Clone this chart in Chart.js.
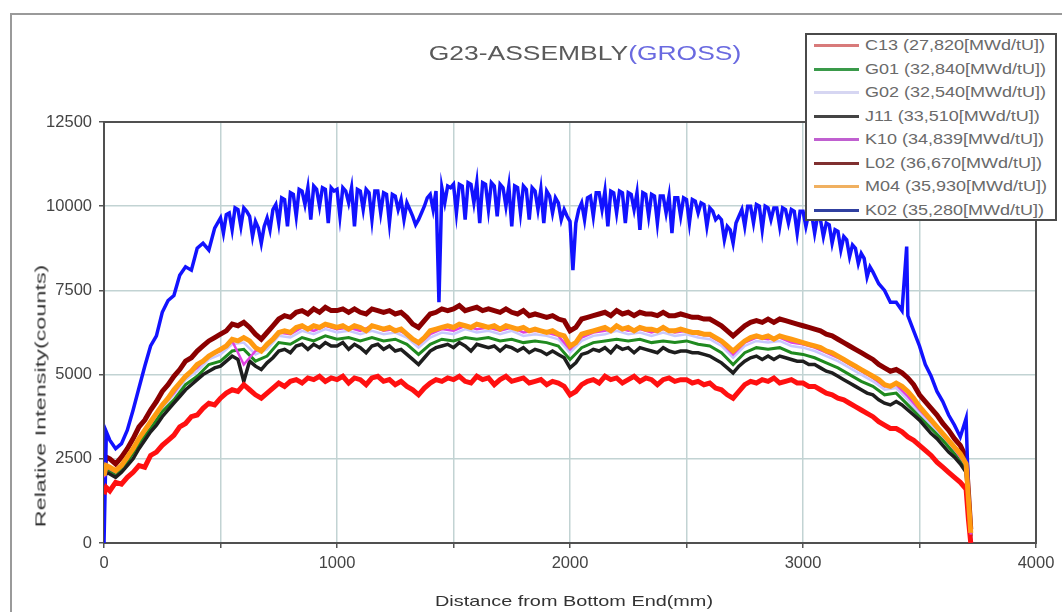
<!DOCTYPE html>
<html>
<head>
<meta charset="utf-8">
<script src="https://cdn.jsdelivr.net/npm/chart.js@4.4.1/dist/chart.umd.min.js"></script>
<style>
  body { margin: 0; background: #fff; }
  #wrap { position: relative; width: 1062px; height: 612px; overflow: hidden; background: #fff;
          font-family: Arial, "Liberation Sans", sans-serif; }
  #frame { position: absolute; left: 10px; top: 13px; width: 1200px; height: 800px;
           border-left: 2px solid #9a9a9a; border-top: 2px solid #9a9a9a; }
  canvas { position: absolute; left: 0; top: 0; }
  .lbl { position: absolute; white-space: nowrap; }
  #title { font-size: 20px; color: #5a5a5a; }
  #title span { color: #6a6ae0; }
  #ytitle, #xtitle { font-size: 15px; color: #333; }
  #legend { position: absolute; left: 805px; top: 33px; width: 252px; height: 188px;
            border: 2px solid #4a4a4a; background: #fff; box-sizing: border-box; }
  .row { position: absolute; left: 0; width: 100%; height: 21px; }
  .row i { position: absolute; left: 7px; top: 9px; width: 45px; height: 3px; }
  .row b { position: absolute; left: 58px; top: 2px; font-weight: normal; font-size: 14.5px;
           color: #6a6a6a; white-space: nowrap; transform-origin: 0 50%; }
</style>
</head>
<body>
<div id="wrap">
  <div id="frame"></div>
  <canvas id="chart" width="1062" height="612"></canvas>
  <div id="title" class="lbl">G23-ASSEMBLY<span>(GROSS)</span></div>
  <div id="ytitle" class="lbl">Relative Intensity(counts)</div>
  <div id="xtitle" class="lbl">Distance from Bottom End(mm)</div>
  <div id="legend"></div>
</div>
<script>
  // rod names and burnups as shown in the legend
  const rodNames = ['C13', 'G01', 'G02', 'J11', 'K10', 'L02', 'M04', 'K02'];
  const burnups = ['27,820', '32,840', '32,540', '33,510', '34,839', '36,670', '35,930', '35,280'];

  // axis ticks
  const xTickMarks = [0, 500, 1000, 1500, 2000, 2500, 3000, 3500, 4000];
  const xTickLabels = [0, 1000, 2000, 3000, 4000];
  const yTicks = [0, 2500, 5000, 7500, 10000, 12500];

  // scan positions (mm), 50 mm readings
  const positions = [
    0, 10, 50, 100, 150, 200, 250, 300, 350, 400, 450,
    500, 550, 600, 650, 700, 750, 800, 850, 900, 950,
    1000, 1050, 1100, 1150, 1200, 1250, 1300, 1350, 1400, 1450,
    1500, 1550, 1600, 1650, 1700, 1750, 1800, 1850, 1900, 1950,
    2000, 2050, 2100, 2150, 2200, 2250, 2300, 2350, 2400, 2450,
    2500, 2550, 2600, 2650, 2700, 2750, 2800, 2850, 2900, 2950,
    3000, 3050, 3100, 3150, 3200, 3250, 3300, 3350, 3400, 3450,
    3500, 3550, 3600, 3650, 3700, 3710, 3720
  ];

  // scan positions (mm), 25 mm readings
  const finePositions = [
    0, 10, 25, 50, 75, 100, 125, 150, 175, 200, 225, 250, 275, 300, 325, 350, 375, 400, 425, 450, 475,
    500, 525, 550, 575, 600, 625, 650, 675, 700, 725, 750, 775, 800, 825, 850, 875, 900, 925, 950, 975,
    1000, 1025, 1050, 1075, 1100, 1125, 1150, 1175, 1200, 1225, 1250, 1275, 1300, 1325, 1350, 1375, 1400, 1425, 1450, 1475,
    1500, 1525, 1550, 1575, 1600, 1625, 1650, 1675, 1700, 1725, 1750, 1775, 1800, 1825, 1850, 1875, 1900, 1925, 1950, 1975,
    2000, 2025, 2050, 2075, 2100, 2125, 2150, 2175, 2200, 2225, 2250, 2275, 2300, 2325, 2350, 2375, 2400, 2425, 2450, 2475,
    2500, 2525, 2550, 2575, 2600, 2625, 2650, 2675, 2700, 2725, 2750, 2775, 2800, 2825, 2850, 2875, 2900, 2925, 2950, 2975,
    3000, 3025, 3050, 3075, 3100, 3125, 3150, 3175, 3200, 3225, 3250, 3275, 3300, 3325, 3350, 3375, 3400, 3425, 3450, 3475,
    3500, 3525, 3550, 3575, 3600, 3625, 3650, 3675, 3700, 3710, 3720
  ];

  // K02 positions: 12.5 mm through the plateau, 25 mm on the slopes
  const k02Positions = [
    0, 10, 25, 50, 75, 100, 125, 150, 175, 200, 225, 250, 275, 300, 325, 350, 375, 400, 425, 450, 475,
    500, 512.5, 525, 537.5, 550, 562.5, 575, 587.5, 600, 612.5, 625, 637.5, 650, 662.5, 675, 687.5, 700, 712.5, 725, 737.5,
    750, 762.5, 775, 787.5, 800, 812.5, 825, 837.5, 850, 862.5, 875, 887.5, 900, 912.5, 925, 937.5, 950, 962.5, 975, 987.5,
    1000, 1012.5, 1025, 1037.5, 1050, 1062.5, 1075, 1087.5, 1100, 1112.5, 1125, 1137.5, 1150, 1162.5, 1175, 1187.5, 1200, 1212.5, 1225, 1237.5,
    1250, 1262.5, 1275, 1287.5, 1300, 1312.5, 1325, 1337.5, 1350, 1362.5, 1375, 1387.5, 1400, 1412.5, 1425, 1437.5, 1450, 1462.5, 1475, 1487.5,
    1500, 1512.5, 1525, 1537.5, 1550, 1562.5, 1575, 1587.5, 1600, 1612.5, 1625, 1637.5, 1650, 1662.5, 1675, 1687.5, 1700, 1712.5, 1725, 1737.5,
    1750, 1762.5, 1775, 1787.5, 1800, 1812.5, 1825, 1837.5, 1850, 1862.5, 1875, 1887.5, 1900, 1912.5, 1925, 1937.5, 1950, 1962.5, 1975, 1987.5,
    2000, 2012.5, 2025, 2037.5, 2050, 2062.5, 2075, 2087.5, 2100, 2112.5, 2125, 2137.5, 2150, 2162.5, 2175, 2187.5, 2200, 2212.5, 2225, 2237.5,
    2250, 2262.5, 2275, 2287.5, 2300, 2312.5, 2325, 2337.5, 2350, 2362.5, 2375, 2387.5, 2400, 2412.5, 2425, 2437.5, 2450, 2462.5, 2475, 2487.5,
    2500, 2512.5, 2525, 2537.5, 2550, 2562.5, 2575, 2587.5, 2600, 2612.5, 2625, 2637.5, 2650, 2662.5, 2675, 2687.5, 2700, 2712.5, 2725, 2737.5,
    2750, 2762.5, 2775, 2787.5, 2800, 2812.5, 2825, 2837.5, 2850, 2862.5, 2875, 2887.5, 2900, 2912.5, 2925, 2937.5, 2950, 2962.5, 2975, 2987.5,
    3000, 3012.5, 3025, 3037.5, 3050, 3062.5, 3075, 3087.5, 3100, 3112.5, 3125, 3137.5, 3150, 3162.5, 3175, 3187.5, 3200, 3212.5, 3225, 3237.5,
    3250, 3262.5, 3275, 3287.5,
    3300, 3325, 3350, 3375, 3400, 3425, 3445, 3450, 3475, 3500, 3525, 3550, 3575, 3600, 3625, 3650, 3675, 3700, 3710, 3720
  ];

  const c13 = [
    1450, 1650, 1550, 1800, 1750, 1950, 2100, 2300, 2250, 2600, 2700, 2900, 3050, 3200, 3450, 3550, 3750, 3800, 4000, 4150, 4100,
    4300, 4450, 4550, 4500, 4700, 4550, 4400, 4300, 4450, 4600, 4750, 4650, 4800, 4850, 4750, 4900, 4850, 4950, 4800, 4900,
    4850, 4950, 4750, 4900, 4850, 4700, 4900, 4950, 4800, 4850, 4700, 4800, 4650, 4550, 4400, 4600, 4750, 4850, 4800, 4900,
    4850, 4950, 4800, 4750, 4950, 4850, 4900, 4700, 4850, 4950, 4800, 4850, 4900, 4750, 4800, 4850, 4700, 4800, 4750, 4650,
    4400, 4500, 4700, 4800, 4850, 4750, 4950, 4850, 4900, 4750, 4850, 4950, 4800, 4900, 4850, 4700, 4850, 4900, 4800, 4850,
    4850, 4750, 4800, 4700, 4750, 4600, 4550, 4400, 4300, 4500, 4700, 4800, 4750, 4850, 4800, 4900, 4750, 4800, 4850, 4750,
    4750, 4650, 4650, 4550, 4450, 4400, 4300, 4250, 4150, 4050, 3950, 3850, 3750, 3600, 3500, 3400, 3400, 3300, 3150, 3050,
    2900, 2750, 2600, 2400, 2250, 2100, 1950, 1800, 1600, 700, 0
  ];
  const m04 = [
    2000, 2300, 2250, 2150, 2300, 2550, 2800, 3100, 3350, 3600, 3850, 4100, 4300, 4550, 4750, 4950, 5100, 5300, 5400, 5550, 5650,
    5750, 5850, 6050, 6000, 6100, 6000, 5800, 5700, 5900, 6050, 6250, 6300, 6250, 6400, 6450, 6350, 6450, 6400, 6500, 6450,
    6400, 6450, 6350, 6450, 6400, 6300, 6450, 6400, 6350, 6400, 6300, 6350, 6200, 6050, 5950, 6100, 6300, 6350, 6400, 6450,
    6400, 6500, 6450, 6400, 6500, 6450, 6400, 6450, 6350, 6450, 6400, 6350, 6400, 6300, 6350, 6300, 6250, 6300, 6200, 6150,
    5850, 5950, 6200, 6250, 6300, 6350, 6400, 6300, 6450, 6350, 6400, 6300, 6400, 6350, 6350, 6300, 6400, 6300, 6300, 6350,
    6300, 6250, 6250, 6200, 6200, 6100, 6000, 5850, 5700, 5850, 6000, 6100, 6150, 6100, 6150, 6050, 6150, 6100, 6050, 6000,
    5950, 5900, 5850, 5800, 5700, 5650, 5550, 5450, 5350, 5250, 5150, 5050, 4950, 4850, 4700, 4650, 4750, 4650, 4500, 4300,
    4050, 3850, 3650, 3450, 3250, 3050, 2850, 2650, 2350, 1300, 300
  ];
  const l02 = [
    2250, 2550, 2500, 2350, 2550, 2800, 3100, 3450, 3650, 3950, 4200, 4500, 4700, 4950, 5150, 5400, 5500, 5700, 5850, 6000, 6100,
    6200, 6300, 6500, 6450, 6550, 6400, 6200, 6050, 6250, 6450, 6650, 6750, 6700, 6850, 6900, 6800, 6950, 6850, 7000, 6900,
    6900, 6950, 6850, 6950, 6850, 6800, 6950, 6900, 6850, 6900, 6800, 6850, 6700, 6500, 6400, 6600, 6800, 6850, 6950, 6900,
    6950, 7050, 6900, 6950, 7000, 6900, 6950, 6900, 6850, 6950, 6850, 6800, 6900, 6750, 6800, 6750, 6700, 6750, 6650, 6600,
    6300, 6400, 6650, 6700, 6750, 6800, 6850, 6750, 6900, 6800, 6850, 6750, 6850, 6800, 6800, 6750, 6850, 6750, 6750, 6800,
    6750, 6700, 6700, 6650, 6650, 6550, 6450, 6300, 6150, 6300, 6450, 6550, 6600, 6550, 6650, 6550, 6650, 6600, 6550, 6500,
    6450, 6400, 6350, 6300, 6200, 6150, 6050, 5950, 5850, 5750, 5650, 5550, 5450, 5300, 5200, 5100, 5150, 5050, 4900, 4700,
    4400, 4200, 4000, 3800, 3550, 3350, 3100, 2900, 2550, 1500, 400
  ];
  const j11 = [
    1850, 2100, 2050, 1950, 2100, 2300, 2500, 2800, 3050, 3300, 3500, 3750, 3950, 4150, 4350, 4550, 4700, 4850, 5000, 5100, 5200,
    5250, 5400, 5550, 5450, 4800, 5400, 5250, 5150, 5350, 5500, 5700, 5750, 5650, 5850, 5900, 5750, 5900, 5800, 5950, 5850,
    5850, 5950, 5750, 5900, 5800, 5650, 5850, 5900, 5750, 5850, 5700, 5750, 5600, 5450, 5300, 5500, 5700, 5800, 5850, 5900,
    5800, 5950, 5850, 5700, 5900, 5850, 5800, 5850, 5700, 5850, 5800, 5700, 5800, 5650, 5750, 5700, 5600, 5700, 5600, 5500,
    5200, 5350, 5600, 5650, 5750, 5700, 5800, 5650, 5850, 5750, 5800, 5650, 5800, 5750, 5700, 5650, 5800, 5700, 5650, 5700,
    5700, 5650, 5650, 5600, 5550, 5450, 5350, 5200, 5050, 5250, 5400, 5500, 5550, 5450, 5550, 5450, 5550, 5500, 5450, 5400,
    5400, 5300, 5300, 5200, 5100, 5050, 4950, 4850, 4750, 4650, 4550, 4450, 4400, 4250, 4150, 4100, 4200, 4100, 3950, 3800,
    3650, 3450, 3250, 3100, 2900, 2700, 2550, 2350, 2100, 1100, 200
  ];
  const g01 = [
    1900, 2200, 2050, 2400, 2950, 3400, 3900, 4250, 4700, 4950, 5300,
    5400, 5700, 5750, 5400, 5550, 5950, 5900, 6100, 6000, 6150,
    6050, 6100, 6000, 6100, 6000, 6050, 5900, 5600, 5900, 6050,
    6000, 6100, 6050, 6100, 6000, 6050, 5950, 6000, 5950, 5850,
    5450, 5800, 5950, 6000, 6050, 6000, 6050, 5950, 6000, 5950,
    6000, 5900, 5850, 5650, 5300, 5650, 5800, 5750, 5800, 5650,
    5600, 5500, 5350, 5200, 5000, 4800, 4650, 4400, 4450, 4100,
    3750, 3400, 3050, 2650, 2200, 1200, 250
  ];
  const g02 = [
    1950, 2200, 2100, 2450, 3050, 3500, 4000, 4400, 4850, 5100, 5450,
    5600, 5900, 5950, 5600, 5750, 6150, 6100, 6300, 6200, 6350,
    6250, 6300, 6200, 6300, 6200, 6250, 6100, 5800, 6100, 6250,
    6200, 6350, 6250, 6300, 6200, 6300, 6150, 6200, 6150, 6050,
    5650, 6000, 6150, 6200, 6300, 6200, 6250, 6150, 6250, 6150,
    6200, 6100, 6050, 5850, 5500, 5850, 6000, 5950, 6000, 5850,
    5800, 5700, 5550, 5400, 5200, 5000, 4800, 4550, 4600, 4250,
    3850, 3500, 3100, 2700, 2250, 1200, 250
  ];
  const k10 = [
    1950, 2250, 2100, 2500, 3100, 3550, 4100, 4450, 4950, 5200, 5550,
    5700, 6000, 5300, 5700, 5850, 6250, 6200, 6400, 6300, 6450,
    6350, 6400, 6300, 6450, 6300, 6350, 6200, 5900, 6200, 6350,
    6300, 6450, 6350, 6400, 6300, 6400, 6250, 6300, 6250, 6150,
    5750, 6100, 6250, 6300, 6400, 6300, 6350, 6250, 6350, 6250,
    6300, 6200, 6150, 5950, 5600, 5950, 6100, 6050, 6100, 5950,
    5900, 5800, 5650, 5500, 5300, 5100, 4900, 4650, 4700, 4350,
    3950, 3600, 3200, 2800, 2300, 1250, 250
  ];
  const k02 = [
    0, 3300, 3050, 2800, 2950, 3350, 3950, 4600, 5250, 5850, 6150, 6850, 7200, 7350, 7950, 8200, 8100, 8750, 8900, 8700, 9350,
    9650, 9200, 9750, 9800, 9300, 9950, 9900, 9400, 9950, 9850, 9700, 9100, 9550, 9350, 8900, 9400, 9650, 9300, 9900, 10050,
    9500, 10250, 10200, 9400, 10400, 10350, 9700, 10500, 10450, 10050, 10550, 9600, 10600, 10500, 10000, 10550, 10500, 9500, 10550, 10450,
    10500, 9700, 10550, 10450, 10100, 10550, 9400, 10500, 10450, 9900, 10500, 10400, 9600, 10450, 10450, 9800, 10400, 10350, 9500, 10350,
    10300, 9900, 10200, 9600, 10100, 9900, 9700, 9450, 9600, 9800, 10000, 10250, 10350, 9900, 10450, 7150, 10550, 10100, 10600, 10550,
    10650, 9800, 10650, 10600, 9600, 10700, 10650, 10100, 10700, 9500, 10700, 10650, 9900, 10700, 10600, 9700, 10650, 10550, 10000, 10600,
    9400, 10600, 10550, 9800, 10600, 10500, 9600, 10550, 10450, 9900, 10500, 9500, 10450, 10300, 9800, 10250, 10100, 9600, 9900, 9700,
    9550, 8100, 9500, 9900, 10100, 9600, 10250, 10300, 9700, 10400, 10400, 9900, 10450, 9400, 10450, 10400, 9800, 10450, 10400, 9500,
    10400, 10350, 9900, 10400, 9300, 10400, 10350, 9700, 10350, 10300, 9500, 10300, 10300, 9800, 10300, 9200, 10250, 10250, 9700, 10250,
    10200, 9500, 10200, 10150, 9800, 10100, 10050, 9400, 9950, 9850, 9600, 9700, 9600, 9000, 9400, 9300, 8900, 9500, 9700, 9900,
    9400, 10000, 10000, 9500, 10050, 10000, 9300, 10000, 9950, 9600, 9950, 9950, 9400, 9950, 9900, 9500, 9900, 9850, 9200, 9850,
    9850, 9400, 9800, 9750, 9200, 9700, 9600, 9100, 9500, 9450, 8900, 9300, 9250, 8700, 9100, 9000, 8500, 8850, 8750, 8300,
    8600, 8450, 7900, 8200,
    8050, 7700, 7500, 7150, 7150, 6900, 8800, 6750, 6300, 5850, 5300, 4950, 4500, 4200, 3800, 3500, 3150, 3700, 1500, 0
  ];

  const lineColors = ['#ff1010', '#1f8a1f', '#c8c8ff', '#1e1e1e', '#e040e0', '#8b0000', '#ff9a10', '#1212ff'];
  const legendColors = ['#d87a7a', '#3a9a4a', '#d6d6f2', '#444444', '#c060d0', '#803030', '#f0b060', '#3040a0'];
  const lineWidths = [5, 3, 2.5, 3.5, 2.5, 5, 5, 3.5];
  const drawOrder = [2, 6, 7, 5, 1, 4, 0, 3];

  const values = [c13, g01, g02, j11, k10, l02, m04, k02];
  const xsFor = [finePositions, positions, positions, finePositions, positions, finePositions, finePositions, k02Positions];

  const datasets = rodNames.map((name, i) => ({
    label: name + ' (' + burnups[i] + '[MWd/tU])',
    data: values[i].map((v, j) => ({ x: xsFor[i][j], y: v })),
    borderColor: lineColors[i],
    borderWidth: lineWidths[i],
    pointRadius: 0,
    tension: 0,
    fill: false,
    order: drawOrder[i]
  }));

  // box around the plot area
  const plotBox = {
    id: 'plotBox',
    beforeDatasetsDraw(chart) {
      const a = chart.chartArea;
      const ctx = chart.ctx;
      ctx.save();
      ctx.strokeStyle = '#505050';
      ctx.lineWidth = 2;
      ctx.strokeRect(a.left, a.top, a.right - a.left, a.bottom - a.top);
      ctx.restore();
    }
  };

  const tickFont = { family: 'Arial, "Liberation Sans", sans-serif', size: 16.5 };

  new Chart(document.getElementById('chart').getContext('2d'), {
    type: 'line',
    data: { datasets },
    plugins: [plotBox],
    options: {
      responsive: false,
      animation: false,
      events: [],
      layout: { padding: { top: 122, right: 26, left: 0, bottom: 0 } },
      plugins: { legend: { display: false }, title: { display: false }, tooltip: { enabled: false } },
      scales: {
        x: {
          type: 'linear',
          min: 0,
          max: 4000,
          afterFit(scale) { scale.height = 69; },
          afterBuildTicks(scale) { scale.ticks = xTickMarks.map(v => ({ value: v })); },
          ticks: {
            autoSkip: false,
            maxRotation: 0,
            padding: 6,
            color: '#444',
            font: tickFont,
            callback: v => xTickLabels.includes(v) ? String(v) : ''
          },
          grid: { color: '#c2d3d3', lineWidth: 1.5, tickColor: '#555', tickLength: 5 },
          border: { color: '#505050', width: 2 }
        },
        y: {
          min: 0,
          max: 12500,
          afterFit(scale) { scale.width = 104; },
          afterBuildTicks(scale) { scale.ticks = yTicks.map(v => ({ value: v })); },
          ticks: {
            padding: 7,
            color: '#444',
            font: tickFont,
            callback: v => String(v)
          },
          grid: { color: '#c2d3d3', lineWidth: 1.5, tickColor: '#555', tickLength: 5 },
          border: { color: '#505050', width: 2 }
        }
      }
    }
  });

  // centred, stretched text labels
  function place(id, cx, cy, width, rotated) {
    const el = document.getElementById(id);
    const s = width / el.offsetWidth;
    el.style.left = cx + 'px';
    el.style.top = cy + 'px';
    el.style.transform = 'translate(-50%,-50%)' + (rotated ? ' rotate(-90deg)' : '') + ' scaleX(' + s + ')';
  }
  place('title', 585, 53, 312, false);
  place('xtitle', 574, 600, 278, false);
  place('ytitle', 40, 396, 262, true);

  const legend = document.getElementById('legend');
  const texts = [];
  rodNames.forEach((name, i) => {
    const row = document.createElement('div');
    row.className = 'row';
    row.style.top = (i * 23.5) + 'px';
    const sw = document.createElement('i');
    sw.style.background = legendColors[i];
    const tx = document.createElement('b');
    tx.textContent = name + ' (' + burnups[i] + '[MWd/tU])';
    row.appendChild(sw);
    row.appendChild(tx);
    legend.appendChild(row);
    texts.push(tx);
  });
  const legendScale = 180 / texts[0].offsetWidth;
  texts.forEach(t => { t.style.transform = 'scaleX(' + legendScale + ')'; });
</script>
</body>
</html>
